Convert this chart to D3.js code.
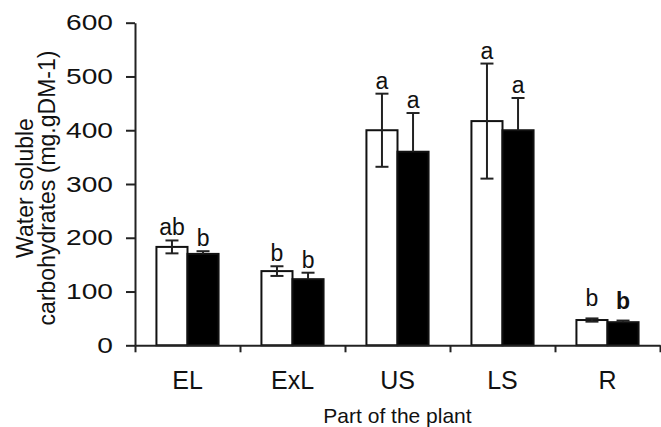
<!DOCTYPE html>
<html>
<head>
<meta charset="utf-8">
<script src="https://cdn.jsdelivr.net/npm/d3@7"></script>
<style>
  body { margin: 0; background: #fff; }
  text { font-family: "Liberation Sans", Arial, sans-serif; fill: #111; }
</style>
</head>
<body>
<div id="chart"></div>
<script>
var categories = ['EL', 'ExL', 'US', 'LS', 'R']
var series = ['open', 'filled']
var openValues = [183, 138, 400, 417, 47]
var openErrors = [12, 9, 68, 107, 3]
var openLetters = ['ab', 'b', 'a', 'a', 'b']
var filledValues = [170, 123, 360, 400, 43]
var filledErrors = [5, 12, 72, 60, 3]
var filledLetters = ['b', 'b', 'a', 'a', 'b']
var yTicks = [0, 100, 200, 300, 400, 500, 600]

var width = 661,
    height = 427
var margin = { top: 22.7, right: 1, bottom: 81.7, left: 135 }

var svg = d3.select('#chart').append('svg')
    .attr('width', width)
    .attr('height', height)

var x = d3.scaleBand()
    .domain(categories)
    .range([margin.left, width - margin.right])
    .padding(0)

var xSub = d3.scaleBand()
    .domain(series)
    .range([0, x.bandwidth()])
    .paddingInner(0)
    .paddingOuter(0.69)

var y = d3.scaleLinear()
    .domain([0, 600])
    .range([height - margin.bottom, margin.top])

// boundary ticks on the x axis
var xEdges = d3.scaleLinear()
    .domain([0, categories.length])
    .range([margin.left, width - margin.right])

var rows = categories.map(function (c, i) {
    return [
        { cat: c, s: 'open', v: openValues[i], e: openErrors[i], l: openLetters[i] },
        { cat: c, s: 'filled', v: filledValues[i], e: filledErrors[i], l: filledLetters[i] }
    ]
})

var groups = svg.append('g').selectAll('g')
    .data(rows)
    .enter().append('g')
    .attr('transform', function (d, i) { return `translate(${x(categories[i])},0)` })

var bars = groups.selectAll('g')
    .data(function (d) { return d })
    .enter().append('g')

bars.append('rect')
    .attr('x', function (d) { return xSub(d.s) })
    .attr('width', xSub.bandwidth())
    .attr('y', function (d) { return y(d.v) })
    .attr('height', function (d) { return y(0) - y(d.v) })
    .style('fill', function (d) { return d.s == 'open' ? '#fff' : '#000' })
    .style('stroke', '#111')
    .style('stroke-width', 2)

var cap = 6.5
function mid(d) { return xSub(d.s) + xSub.bandwidth() / 2 }

// error bars: open bars both ways, filled bars upward only
bars.append('line')
    .attr('x1', mid)
    .attr('x2', mid)
    .attr('y1', function (d) { return d.s == 'open' ? y(d.v - d.e) : y(d.v) })
    .attr('y2', function (d) { return y(d.v + d.e) })
    .style('stroke', '#222')
    .style('stroke-width', 2)

bars.append('line')
    .attr('x1', function (d) { return mid(d) - cap })
    .attr('x2', function (d) { return mid(d) + cap })
    .attr('y1', function (d) { return y(d.v + d.e) })
    .attr('y2', function (d) { return y(d.v + d.e) })
    .style('stroke', '#222')
    .style('stroke-width', 2)

bars.filter(function (d) { return d.s == 'open' }).append('line')
    .attr('x1', function (d) { return mid(d) - cap })
    .attr('x2', function (d) { return mid(d) + cap })
    .attr('y1', function (d) { return y(d.v - d.e) })
    .attr('y2', function (d) { return y(d.v - d.e) })
    .style('stroke', '#222')
    .style('stroke-width', 2)

bars.append('text')
    .attr('x', mid)
    .attr('y', function (d) { return y(d.v + d.e) - (d.cat == 'R' ? 12 : 5) })
    .attr('text-anchor', 'middle')
    .style('font-size', '23px')
    .style('font-weight', function (d) { return d.cat == 'R' && d.s == 'filled' ? 'bold' : 'normal' })
    .text(function (d) { return d.l })

// y axis
var axisLeft = d3.axisLeft(y)
    .tickValues(yTicks)
    .tickSizeInner(9)
    .tickSizeOuter(0)
svg.append('g')
    .attr('transform', `translate(${margin.left},0)`)
    .call(axisLeft)
    .call(function (g) {
        g.selectAll('path,line').style('stroke', '#222').style('stroke-width', 2)
        // the digits in the original are drawn wide
        g.selectAll('text')
            .attr('x', 0)
            .attr('transform', 'translate(-22,0) scale(1.28,1)')
            .style('font-size', '22px')
            .style('font-family', '"Liberation Sans", Arial, sans-serif').style('fill', '#111')
    })

// x axis with ticks at the group edges
var axisBottom = d3.axisBottom(xEdges)
    .tickValues(d3.range(categories.length + 1))
    .tickSizeInner(7)
    .tickSizeOuter(0)
    .tickFormat('')
svg.append('g')
    .attr('transform', `translate(0,${y(0)})`)
    .call(axisBottom)
    .call(function (g) {
        g.selectAll('path,line').style('stroke', '#222').style('stroke-width', 2)
    })

var axisCats = d3.axisBottom(x).tickSize(0).tickPadding(26)
svg.append('g')
    .attr('transform', `translate(0,${y(0)})`)
    .call(axisCats)
    .call(function (g) {
        g.select('.domain').remove()
        g.selectAll('text').style('font-size', '25px')
            .style('font-family', '"Liberation Sans", Arial, sans-serif').style('fill', '#111')
    })

svg.append('text')
    .attr('x', (margin.left + width - margin.right) / 2)
    .attr('y', 423)
    .attr('text-anchor', 'middle')
    .style('font-size', '21px')
    .text('Part of the plant')

var yTitle = svg.append('text')
    .attr('transform', 'translate(0,188) rotate(-90)')
    .attr('text-anchor', 'middle')
    .style('font-size', '23px')
yTitle.append('tspan').attr('x', 0).attr('y', 33).text('Water soluble')
yTitle.append('tspan').attr('x', 0).attr('y', 55).text('carbohydrates (mg.gDM-1)')
</script>
</body>
</html>
